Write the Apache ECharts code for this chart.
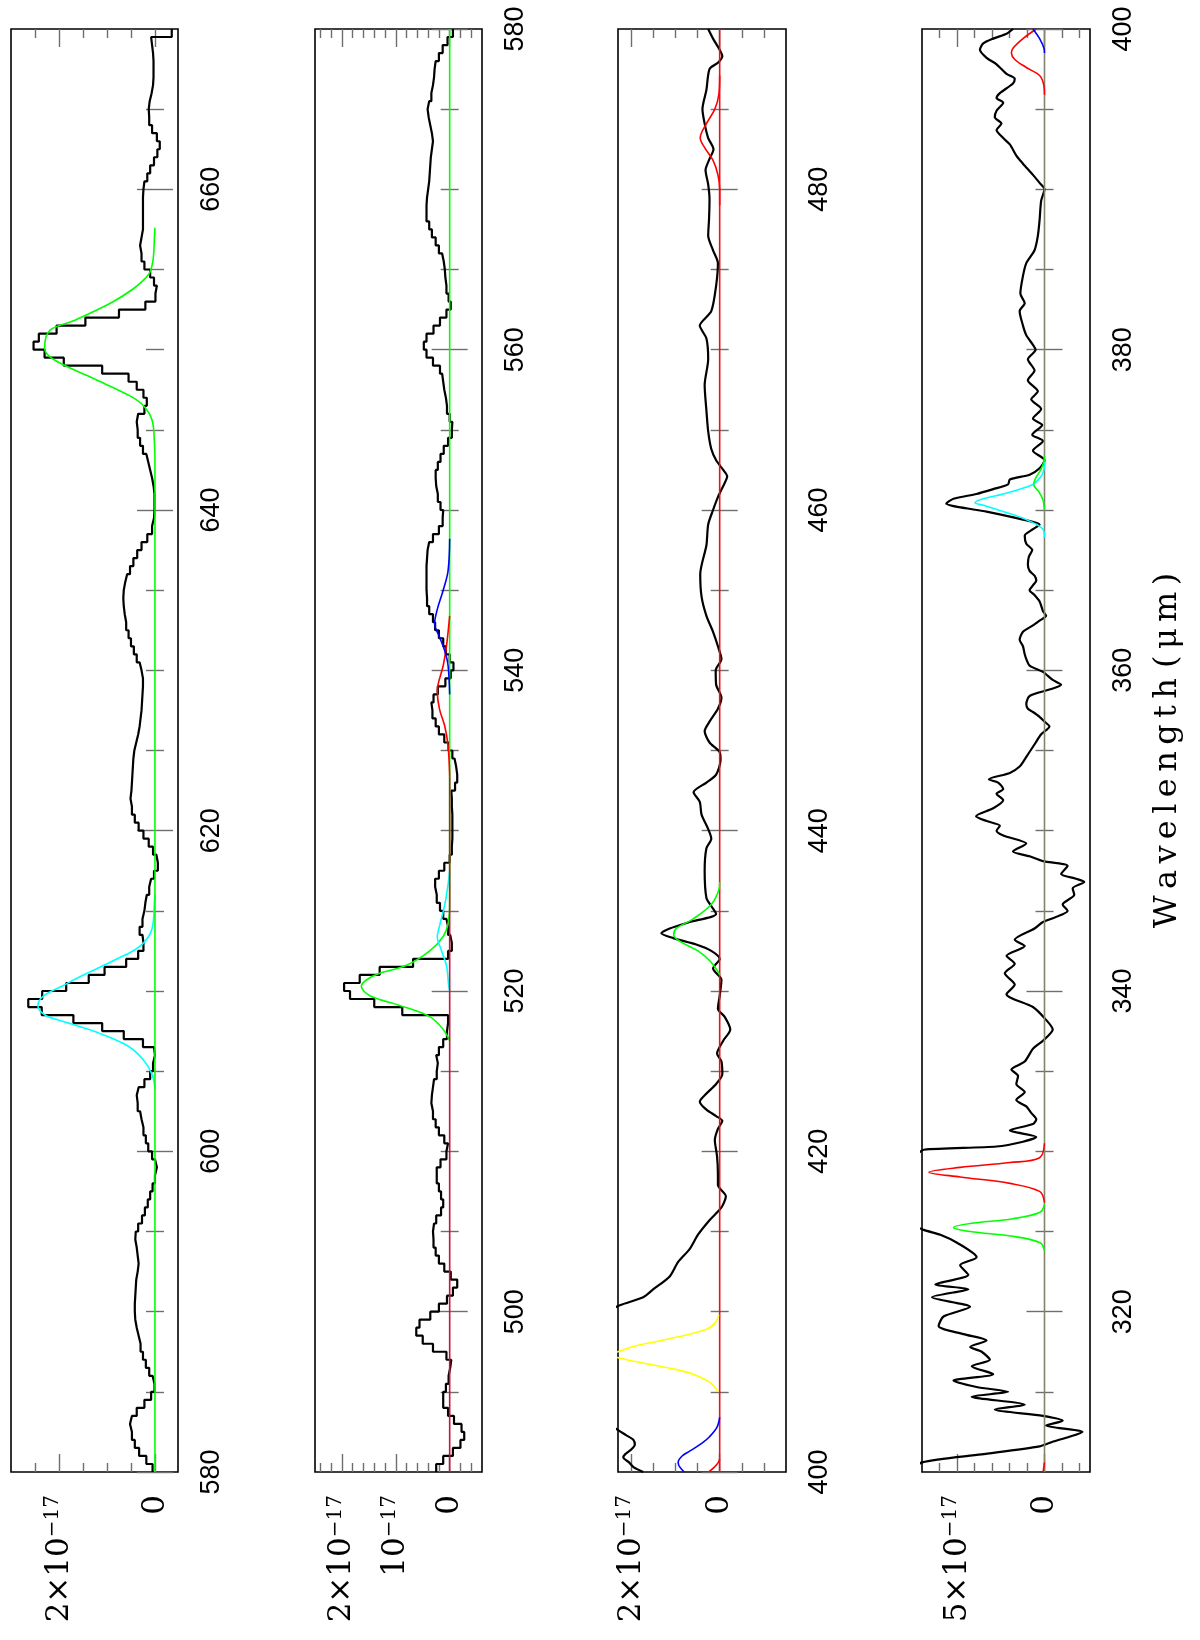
<!DOCTYPE html>
<html><head><meta charset="utf-8">
<script src="https://cdn.jsdelivr.net/npm/echarts@6/dist/echarts.min.js"></script>
<style>html,body{margin:0;padding:0;background:#fff}#c{width:1200px;height:1640px}</style>
</head><body><div id="c"></div>
<script>
// ---------------- DATA (flux in units of 1e-17, wavelength in micron) ----------------
// Panel 1: binned spectrum 580-670, bins of 0.5
const p1Start = 580, p1Bin = 0.5;
const p1Flux = [
 0.05,0.18,0.33,0.42,0.48,0.52,0.48,0.38,0.22,0.08,
 0.01,0.05,0.12,0.19,0.25,0.30,0.34,0.38,0.41,0.42,
 0.42,0.41,0.40,0.39,0.36,0.34,0.36,0.38,0.41,0.40,
 0.35,0.27,0.21,0.15,0.10,0.05,0.00,-0.04,0.00,0.06,
 0.14,0.19,0.24,0.28,0.31,0.36,0.38,0.34,0.22,0.10,
 0.04,0.00,0.02,0.25,0.65,1.10,1.70,2.36,2.64,2.35,
 1.85,1.38,1.05,0.60,0.35,0.24,0.26,0.32,0.26,0.22,
 0.20,0.17,0.12,0.08,0.02,-0.06,-0.03,0.04,0.13,0.24,
 0.34,0.42,0.48,0.51,0.49,0.48,0.47,0.46,0.45,0.43,
 0.39,0.35,0.32,0.30,0.28,0.27,0.26,0.25,0.25,0.28,
 0.32,0.38,0.44,0.50,0.55,0.60,0.63,0.65,0.66,0.65,
 0.62,0.58,0.52,0.45,0.37,0.28,0.16,0.06,0.02,0.01,
 0.01,0.01,0.03,0.06,0.10,0.14,0.18,0.25,0.31,0.36,
 0.38,0.35,0.22,0.17,0.24,0.38,0.55,1.10,1.90,2.30,
 2.53,2.42,2.05,1.45,0.75,0.20,-0.01,-0.04,0.02,0.10,
 0.22,0.28,0.31,0.28,0.25,0.25,0.25,0.25,0.25,0.24,
 0.22,0.16,0.10,0.02,-0.05,-0.10,-0.04,0.06,0.12,0.13,
 0.11,0.07,0.04,0.03,0.03,0.03,0.04,0.06,0.08,-0.35
];
// Panel 2: binned spectrum 490-580
const p2Start = 490, p2Bin = 0.5;
const p2Flux = [
 0.25,0.12,-0.06,-0.20,-0.27,-0.22,-0.08,0.03,0.12,0.12,
 0.07,0.02,-0.01,-0.03,0.06,0.31,0.50,0.62,0.56,0.36,
 0.20,0.05,-0.06,-0.14,-0.02,0.10,0.20,0.26,0.30,0.31,
 0.29,0.25,0.16,0.12,0.16,0.20,0.24,0.24,0.17,0.06,
 0.03,0.10,0.20,0.26,0.31,0.34,0.33,0.31,0.29,0.24,
 0.22,0.25,0.20,0.12,0.05,0.03,0.03,0.88,1.40,1.85,
 1.96,1.67,1.30,0.68,0.03,-0.04,-0.01,0.03,0.06,0.12,
 0.18,0.24,0.27,0.27,0.20,0.10,0.00,-0.04,-0.05,-0.05,
 -0.05,-0.05,-0.04,-0.04,-0.03,-0.10,-0.14,-0.12,-0.09,-0.05,
 0.02,0.10,0.20,0.26,0.32,0.34,0.30,0.22,0.08,-0.02,
 -0.07,0.00,0.07,0.12,0.20,0.27,0.31,0.38,0.42,0.43,
 0.43,0.43,0.43,0.42,0.41,0.38,0.31,0.20,0.13,0.12,
 0.17,0.22,0.25,0.26,0.26,0.22,0.17,0.11,0.03,-0.04,
 -0.05,0.00,0.05,0.07,0.10,0.12,0.14,0.18,0.31,0.43,
 0.48,0.43,0.30,0.18,0.06,-0.02,0.02,0.06,0.08,0.09,
 0.11,0.14,0.20,0.26,0.33,0.38,0.43,0.43,0.42,0.40,
 0.38,0.37,0.36,0.35,0.33,0.31,0.33,0.36,0.39,0.41,
 0.38,0.34,0.31,0.29,0.28,0.26,0.20,0.13,0.04,-0.06
];
// Panel 3: spectrum 400-490 (wavelength, flux)
const p3Lam = [400.0,400.3,400.6,400.9,401.1,401.4,401.7,402.0,402.3,402.6,403.0,404.0,405.0,406.0,407.0,408.0,409.0,410.0,410.4,410.9,
 411.4,412.2,413.1,413.9,414.8,415.7,416.5,417.2,417.9,418.6,419.7,420.7,421.4,421.9,422.2,422.6,423.1,423.6,424.2,424.8,
 425.6,426.1,426.9,427.6,428.4,428.9,429.7,430.7,431.4,432.0,432.5,432.9,433.3,433.6,433.9,434.3,434.8,435.3,435.8,437.5,
 438.9,439.5,440.1,441.0,441.8,442.4,443.0,443.5,444.4,444.9,445.5,446.2,446.8,447.6,448.3,449.1,450.0,450.7,451.5,452.4,
 453.4,454.6,456.0,457.8,459.1,460.0,460.8,461.5,462.1,462.5,463.1,463.8,464.9,466.2,467.8,469.4,470.7,471.5,472.4,474.0,
 475.4,476.2,477.1,478.2,479.4,480.3,481.2,481.9,482.5,483.2,484.1,485.0,486.2,487.5,487.9,488.3,488.7,489.4,490.0];
const p3Flux = [1.73,1.95,2.05,2.18,2.14,2.00,1.92,1.95,2.12,2.29,2.50,2.70,2.80,2.85,2.90,2.85,2.75,2.50,2.26,1.73,
 1.50,1.13,0.94,0.68,0.49,0.23,-0.04,-0.14,0.04,0.04,0.06,0.11,0.04,-0.06,0.08,0.30,0.45,0.30,0.08,-0.06,
 -0.04,0.06,-0.08,-0.24,-0.11,0.04,0.00,-0.04,0.15,0.00,0.19,0.53,1.05,1.32,1.13,0.68,0.08,0.19,0.30,0.34,
 0.30,0.19,0.26,0.41,0.45,0.59,0.30,0.08,-0.02,0.00,0.23,0.34,0.23,0.04,-0.04,0.08,0.09,-0.04,0.04,0.15,
 0.30,0.41,0.44,0.30,0.26,0.15,0.04,-0.08,-0.17,-0.08,0.08,0.19,0.26,0.30,0.34,0.26,0.30,0.45,0.19,0.08,
 0.04,0.15,0.26,0.24,0.23,0.26,0.32,0.23,0.14,0.26,0.34,0.39,0.30,0.23,0.04,-0.06,0.00,0.15,0.26];
// Panel 4: spectrum 310-400
const p4Lam = [310.0,310.6,311.1,311.6,311.9,312.2,312.5,312.9,313.2,313.5,313.9,314.2,314.7,315.0,315.3,315.7,316.1,316.6,317.0,317.5,
 317.8,318.2,318.6,319.1,319.7,320.3,320.9,321.4,321.7,322.3,322.9,323.4,324.3,324.8,325.1,325.5,326.5,327.5,328.5,329.5,
 329.8,330.1,330.3,330.6,330.9,331.3,331.7,332.0,332.4,332.8,333.2,333.7,334.2,334.7,335.1,335.6,336.4,336.9,337.6,338.2,
 339.0,339.8,340.4,341.1,341.7,342.2,342.8,343.2,343.9,344.3,345.0,345.4,346.0,346.4,346.8,347.0,347.3,347.8,348.1,348.4,
 348.7,349.2,349.7,350.0,350.3,350.6,350.9,351.4,351.9,352.3,352.6,353.0,353.2,353.6,354.0,354.5,355.0,355.5,356.0,356.5,
 356.8,357.1,357.4,357.6,357.9,358.4,358.8,359.1,359.4,359.9,360.3,360.7,361.0,361.5,361.9,362.4,362.8,363.1,363.4,363.7,
 364.3,364.7,365.0,365.3,365.6,365.9,366.2,366.6,367.1,367.5,367.9,368.4,368.8,369.1,369.4,369.9,370.0,370.4,370.7,371.0,
 371.3,371.6,371.9,372.2,372.6,373.1,373.7,374.3,374.7,375.3,375.7,376.3,376.9,377.4,378.1,378.7,379.4,380.0,380.3,380.9,
 381.5,382.4,382.9,383.5,384.6,385.4,386.2,387.1,388.1,389.3,390.0,390.4,390.9,391.6,392.1,392.8,393.2,393.7,394.1,394.5,
 394.9,395.4,395.7,396.0,396.6,396.9,397.2,397.8,398.2,398.7,399.1,399.4,399.7,400.0];
const p4Flux = [7.6,7.0,3.6,0.28,-0.5,-1.42,-2.17,-0.09,-1.04,0.09,2.84,1.13,4.16,2.08,3.88,5.2,2.93,4.16,3.12,3.59,
 4.25,3.31,4.63,6.05,5.77,4.25,6.43,4.35,6.24,4.35,4.82,3.88,5.0,5.95,6.9,7.6,7.9,7.9,7.9,7.6,
 7.3,6.9,2.74,1.23,0.47,1.98,0.66,0.47,0.76,1.04,1.61,1.13,1.61,1.51,1.89,1.13,0.66,0.09,-0.47,-0.09,
 0.66,2.17,1.70,2.27,1.70,2.17,1.13,1.70,0.57,0.09,-1.32,-1.04,-1.70,-1.61,-2.27,-1.80,-0.95,-1.32,0.09,0.85,
 1.80,1.04,2.36,2.74,2.55,3.31,3.91,2.93,2.36,2.74,2.36,2.65,3.18,1.98,1.42,1.10,0.80,0.50,0.20,-0.28,
 0.00,0.28,0.66,0.95,1.04,0.85,-0.28,-0.95,-0.47,0.09,0.85,1.04,1.13,1.23,1.42,1.23,0.66,0.28,-0.09,0.09,
 0.28,0.57,0.85,0.66,0.47,0.57,0.85,0.95,0.89,0.70,1.04,1.13,0.66,0.28,1.23,3.31,3.88,5.61,5.20,3.88,
 2.93,2.08,1.98,0.85,0.28,0.00,0.66,0.09,0.70,0.13,0.66,0.19,0.76,0.38,0.95,0.57,0.95,0.51,0.66,1.04,
 1.23,1.42,1.13,1.38,1.23,1.04,0.57,0.38,0.28,0.19,0.00,0.28,0.66,1.23,1.61,1.98,2.36,2.74,2.46,2.84,
 2.74,2.36,2.74,2.55,1.80,1.70,2.17,2.74,3.31,3.69,3.50,2.93,2.17,1.80];

// Fitted line profiles [wavelength, flux]
const p1Green = [[580,0],[643.0,0],[644.1,0.01],[645.6,0.06],[646.5,0.24],[647.1,0.51],[648.2,1.28],[649.4,2.12],[650.1,2.30],[651.2,2.19],[651.8,1.70],[652.9,0.93],[653.8,0.45],[654.7,0.13],[655.6,0.04],[657.1,0.01],[657.6,0]];
const p1Cyan = [[603.9,0],[604.8,0.06],[605.7,0.24],[606.6,0.58],[607.5,1.28],[608.1,1.91],[608.5,2.29],[609.1,2.44],[609.7,2.32],[610.3,1.94],[611.0,1.49],[611.9,0.86],[612.8,0.31],[613.9,0.06],[615.6,0.01],[616.0,0]];
const p2Green = [[516.9,0],[517.6,0.12],[518.4,0.37],[519.1,0.93],[519.7,1.48],[520.3,1.64],[520.7,1.54],[521.1,1.30],[521.6,0.80],[522.5,0.37],[523.4,0.12],[524.2,0.03],[525.5,0],[580,0]];
const p2Cyan = [[520.0,0],[520.4,0.02],[521.6,0.06],[522.5,0.15],[523.4,0.23],[523.9,0.20],[525.4,0.09],[526.9,0.02],[527.5,0]];
const p2Base = [[490,0],[533.4,0]];
const p2Red = [[533.4,0],[535.3,0.03],[536.5,0.09],[537.6,0.19],[538.7,0.23],[540.3,0.12],[541.5,0.06],[543.4,0]];
const p2Blue = [[538.5,0],[540.3,0.03],[541.2,0.09],[542.1,0.19],[542.9,0.28],[543.8,0.23],[545.0,0.12],[546.2,0.03],[548.2,0]];
const p3Base = [[400,0],[490,0]];
const p3Red = [[479.0,0],[480.0,0.0],[480.9,0.04],[481.8,0.15],[482.6,0.34],[483.2,0.44],[484.1,0.30],[485.0,0.11],[485.9,0.02],[487.1,0]];
const p3Green = [[431.0,0],[431.3,0.06],[431.9,0.23],[432.5,0.49],[433.1,0.90],[433.5,1.04],[433.9,0.98],[434.5,0.60],[435.4,0.19],[436.3,0.02],[436.8,0]];
const p3Yellow = [[405.0,0.03],[405.6,0.23],[406.1,0.6],[406.4,1.0],[406.7,1.55],[407.0,2.1],[407.3,2.45],[407.6,2.2],[407.9,1.85],[408.4,0.98],[408.9,0.3],[409.3,0.1],[409.8,0.02]];
const p3Blue = [[400,0.8],[400.3,0.9],[400.6,0.94],[401.0,0.85],[401.3,0.68],[401.8,0.4],[402.2,0.23],[402.8,0.06],[403.4,0]];
const p3RedLow = [[400,0.25],[400.3,0.12],[400.6,0.03],[400.8,0]];
const p4Base = [[310,0],[400,0]];
const p4RedTop = [[395.9,0],[396.5,0.04],[397.1,0.28],[397.6,1.04],[398.1,1.70],[398.5,1.89],[398.8,1.80],[399.4,1.23],[400,0.47]];
const p4BlueTop = [[398.5,0],[398.8,0.03],[399.4,0.28],[400,0.66]];
const p4Cyan = [[368.3,0],[368.8,0.09],[369.4,1.04],[369.9,2.36],[370.3,3.5],[370.45,3.97],[370.7,3.5],[371.0,2.36],[371.3,1.42],[371.6,0.66],[372.1,0.19],[372.6,0.02],[373.0,0]];
const p4GreenMid = [[370.0,0],[370.6,0.08],[371.1,0.3],[371.6,0.62],[372.0,0.5],[372.5,0.22],[373.0,0.04],[373.4,0]];
const p4RedLow = [[326.8,0],[327.5,0.28],[328.0,1.98],[328.4,4.82],[328.7,6.6],[329.0,4.82],[329.3,1.98],[329.6,0.28],[330.5,0]];
const p4GreenLow = [[323.8,0],[324.3,0.25],[324.7,1.8],[325.0,4.25],[325.25,5.2],[325.5,4.25],[325.8,1.8],[326.2,0.25],[326.7,0]];
const p4RedBottom = [[310,0.08],[310.6,0]];

// Tick values and labels
const p1FluxTicks = [0, 2], p1FluxLabels = ['0', '2×10|−17'];
const p2FluxTicks = [0, 1, 2], p2FluxLabels = ['0', '10|−17', '2×10|−17'];
const p3FluxTicks = [0, 2], p3FluxLabels = ['0', '2×10|−17'];
const p4FluxTicks = [0, 5], p4FluxLabels = ['0', '5×10|−17'];
const p1WaveTicks = [580, 600, 620, 640, 660];
const p2WaveTicks = [500, 520, 540, 560, 580];
const p3WaveTicks = [400, 420, 440, 460, 480];
const p4WaveTicks = [320, 340, 360, 380, 400];
const axisTitle = 'Wavelength (μm)';

// ---------------- BUILD ----------------
function stepPoints(start, bin, vals) {
  const pts = [];
  vals.forEach((v, i) => { const a = start + i * bin; pts.push([v, a], [v, a + bin]); });
  return pts;
}
function pairs(lam, flux) { return lam.map((l, i) => [flux[i], l]); }
function swap(arr) { return arr.map(d => [d[1], d[0]]); }
function minors(min, max, step, majors) {
  const out = [];
  for (let k = Math.ceil(min / step - 1e-9); k * step < max - 1e-6; k++) {
    const v = +(k * step).toFixed(6);
    if (v <= min + 1e-6) continue;
    if (!majors.some(m => Math.abs(m - v) < 1e-9)) out.push(v);
  }
  return out;
}

const G = '#00ff00', C = '#00ffff', B = '#0000ff', R = '#ff0000', Y = '#ffff00';
const panels = [
  {left: 11, width: 167, fx: [-0.48, 3.0], wl: [580, 670], fT: p1FluxTicks, fL: p1FluxLabels, fStep: 0.5, wT: p1WaveTicks,
   spec: stepPoints(p1Start, p1Bin, p1Flux), smooth: false, lines: [[p1Cyan, C], [p1Green, G]]},
  {left: 315, width: 167, fx: [-0.6, 2.5], wl: [490, 580], fT: p2FluxTicks, fL: p2FluxLabels, fStep: 0.2, wT: p2WaveTicks,
   spec: stepPoints(p2Start, p2Bin, p2Flux), smooth: false, lines: [[p2Green, G], [p2Cyan, C], [p2Base, '#c8143c'], [p2Red, R], [p2Blue, B]]},
  {left: 618, width: 168, fx: [-1.5, 2.3], wl: [400, 490], fT: p3FluxTicks, fL: p3FluxLabels, fStep: 0.5, wT: p3WaveTicks,
   spec: pairs(p3Lam, p3Flux), smooth: 0.25, lines: [[p3Base, '#e8101a'], [p3Red, R], [p3Green, G], [p3Yellow, Y], [p3Blue, B], [p3RedLow, R]]},
  {left: 922, width: 168, fx: [-2.6, 7.0], wl: [310, 400], fT: p4FluxTicks, fL: p4FluxLabels, fStep: 1, wT: p4WaveTicks,
   spec: pairs(p4Lam, p4Flux), smooth: 0.25, lines: [[p4Base, '#84846e'], [p4Cyan, C], [p4GreenMid, G], [p4RedLow, R], [p4GreenLow, G], [p4RedTop, R], [p4BlueTop, B], [p4RedBottom, R]]}
];

const TICK = {color: '#6e6e6e', width: 1.4};
const grids = [], xAxes = [], yAxes = [], series = [];
panels.forEach((p, i) => {
  grids.push({left: p.left, top: 29, width: p.width, height: 1443, show: true, borderColor: '#000', borderWidth: 1.6,
    backgroundColor: 'transparent', containLabel: false, outerBoundsMode: 'none'});
  const fMin = minors(p.fx[0], p.fx[1], p.fStep, p.fT);
  const wMin = minors(p.wl[0], p.wl[1], 5, p.wT);
  const labelMap = {};
  p.fT.forEach((t, k) => {
    const s = p.fL[k];
    if (s.indexOf('|') < 0) labelMap[t] = '{b|' + s + '}';
    else { const q = s.split('|'); labelMap[t] = '{b|' + q[0] + '}{s|' + q[1] + '}'; }
  });
  const xBase = {type: 'value', gridIndex: i, inverse: true, min: p.fx[0], max: p.fx[1], axisLine: {show: false}, splitLine: {show: false}};
  const yBase = {type: 'value', gridIndex: i, min: p.wl[0], max: p.wl[1], axisLine: {show: false}, splitLine: {show: false}};
  xAxes.push(Object.assign({}, xBase, {position: 'bottom',
    axisTick: {show: true, inside: true, length: 18, customValues: p.fT, lineStyle: TICK},
    axisLabel: {show: true, rotate: 90, margin: 23, customValues: p.fT, formatter: v => labelMap[v] || '',
      rich: {
        b: {fontFamily: 'DejaVu Serif', fontSize: 31, lineHeight: 32, verticalAlign: 'bottom', color: '#000'},
        s: {fontFamily: 'DejaVu Serif', fontSize: 20, lineHeight: 20, verticalAlign: 'top', padding: [0, 0, 17, 0], color: '#000'}
      }}}));
  xAxes.push(Object.assign({}, xBase, {position: 'bottom',
    axisTick: {show: true, inside: true, length: 9, customValues: fMin, lineStyle: TICK}, axisLabel: {show: false}}));
  xAxes.push(Object.assign({}, xBase, {position: 'top',
    axisTick: {show: true, inside: true, length: 18, customValues: p.fT, lineStyle: TICK}, axisLabel: {show: false}}));
  xAxes.push(Object.assign({}, xBase, {position: 'top',
    axisTick: {show: true, inside: true, length: 9, customValues: fMin, lineStyle: TICK}, axisLabel: {show: false}}));
  const yMain = Object.assign({}, yBase, {position: 'right',
    axisTick: {show: true, inside: true, length: 18, customValues: p.wT, lineStyle: TICK},
    axisLabel: {show: true, rotate: 90, margin: 20, customValues: p.wT, fontFamily: 'Liberation Sans', fontSize: 27, color: '#000',
      formatter: v => String(v)}});
  if (i === 3) {
    yMain.name = axisTitle.split('').join('\u2009').replace('\u2009 \u2009', ' ');
    yMain.nameLocation = 'middle';
    yMain.nameRotate = 90;
    yMain.nameGap = 62;
    yMain.nameTextStyle = {fontFamily: 'DejaVu Serif', fontSize: 32, color: '#000'};
  }
  yAxes.push(yMain);
  yAxes.push(Object.assign({}, yBase, {position: 'right',
    axisTick: {show: true, inside: true, length: 9, customValues: wMin, lineStyle: TICK}, axisLabel: {show: false}}));
  yAxes.push(Object.assign({}, yBase, {position: 'left',
    axisTick: {show: true, inside: true, length: 18, customValues: p.wT, lineStyle: TICK}, axisLabel: {show: false}}));
  yAxes.push(Object.assign({}, yBase, {position: 'left',
    axisTick: {show: true, inside: true, length: 9, customValues: wMin, lineStyle: TICK}, axisLabel: {show: false}}));

  series.push({type: 'line', xAxisIndex: 4 * i, yAxisIndex: 4 * i, data: p.spec, showSymbol: false, symbol: 'none',
    smooth: p.smooth, clip: true, lineStyle: {color: '#000', width: 2.2}, z: 3, silent: true});
  p.lines.forEach((ln, k) => {
    series.push({type: 'line', xAxisIndex: 4 * i, yAxisIndex: 4 * i, data: swap(ln[0]), showSymbol: false, symbol: 'none',
      smooth: ln[0].length > 3 ? 0.35 : false, clip: true, lineStyle: {color: ln[1], width: 1.6}, z: 4 + k, silent: true});
  });
});

const chart = echarts.init(document.getElementById('c'), null, {renderer: 'canvas', width: 1200, height: 1640});
chart.setOption({animation: false, backgroundColor: '#fff', grid: grids, xAxis: xAxes, yAxis: yAxes, series: series});
</script></body></html>
